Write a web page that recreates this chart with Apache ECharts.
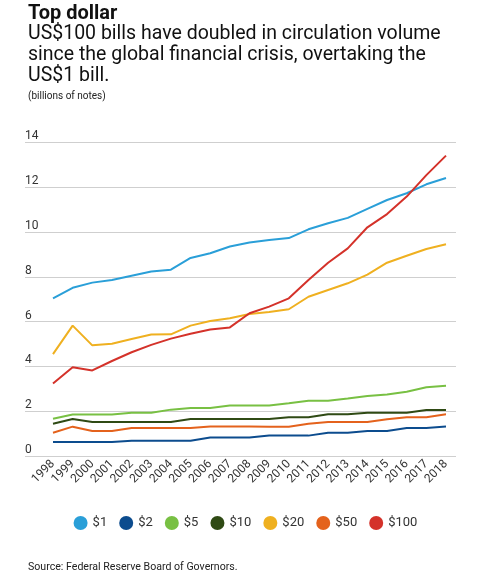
<!DOCTYPE html>
<html>
<head>
<meta charset="utf-8">
<script src="https://cdn.jsdelivr.net/npm/echarts@6/dist/echarts.min.js"></script>
<style>
    html, body { margin: 0; padding: 0; background: #fff; }
    #chart { width: 491px; height: 572px; }
</style>
</head>
<body>
<div id="chart"></div>
<script>
// years and notes in circulation (billions)
var years = ['1998', '1999', '2000', '2001', '2002', '2003', '2004', '2005', '2006', '2007', '2008',
    '2009', '2010', '2011', '2012', '2013', '2014', '2015', '2016', '2017', '2018'];
var yTicks = [0, 2, 4, 6, 8, 10, 12, 14];

var names = ['$1', '$2', '$5', '$10', '$20', '$50', '$100'];
var colors = ['#2a9fd8', '#0c4c8e', '#78c043', '#2f4a14', '#efb020', '#e4621c', '#d4322a'];

var d1 = [7.04, 7.51, 7.74, 7.86, 8.05, 8.24, 8.32, 8.84, 9.05, 9.35, 9.53, 9.64, 9.73, 10.12, 10.39, 10.63, 11.03, 11.43, 11.73, 12.13, 12.41];
var d2 = [0.63, 0.63, 0.63, 0.63, 0.68, 0.68, 0.68, 0.68, 0.83, 0.83, 0.83, 0.91, 0.91, 0.91, 1.04, 1.04, 1.12, 1.12, 1.25, 1.25, 1.32];
var d5 = [1.66, 1.85, 1.85, 1.85, 1.93, 1.93, 2.07, 2.14, 2.14, 2.25, 2.25, 2.25, 2.35, 2.47, 2.47, 2.57, 2.68, 2.75, 2.87, 3.07, 3.14];
var d10 = [1.44, 1.65, 1.52, 1.52, 1.52, 1.52, 1.52, 1.65, 1.65, 1.65, 1.65, 1.65, 1.73, 1.73, 1.86, 1.86, 1.93, 1.93, 1.93, 2.05, 2.05];
var d20 = [4.55, 5.82, 4.94, 5.01, 5.22, 5.42, 5.43, 5.82, 6.03, 6.15, 6.34, 6.43, 6.55, 7.11, 7.41, 7.71, 8.10, 8.63, 8.94, 9.24, 9.45];
var d50 = [1.04, 1.31, 1.12, 1.12, 1.25, 1.25, 1.25, 1.25, 1.32, 1.32, 1.32, 1.31, 1.31, 1.44, 1.52, 1.52, 1.52, 1.64, 1.73, 1.73, 1.86];
var d100 = [3.24, 3.96, 3.82, 4.24, 4.63, 4.96, 5.24, 5.46, 5.65, 5.74, 6.37, 6.67, 7.04, 7.86, 8.63, 9.27, 10.21, 10.80, 11.58, 12.54, 13.41];

window.addEventListener("load", initChart);

function initChart() {
    var chart = echarts.init(document.getElementById("chart"));
    var font = 'Roboto';
    var allData = [d1, d2, d5, d10, d20, d50, d100];

    var series = [];
    for (var i = 0; i < names.length; i++) {
        series.push({
            name: names[i],
            type: 'line',
            xAxisIndex: 0,
            yAxisIndex: 0,
            showSymbol: false,
            symbol: 'circle',
            lineStyle: { width: 2, color: colors[i] },
            itemStyle: { color: colors[i] },
            data: allData[i]
        });
    }

    var option = {
        animation: false,
        backgroundColor: '#fff',
        textStyle: { fontFamily: font },
        title: [{
            text: 'Top dollar',
            left: 23,
            top: -1,
            textStyle: { fontFamily: font, fontSize: 20, fontWeight: 'bold', color: '#111' }
        }, {
            text: 'US$100 bills have doubled in circulation volume\nsince the global financial crisis, overtaking the\nUS$1 bill.',
            left: 23,
            top: 19,
            textStyle: { fontFamily: font, fontSize: 19.5, fontWeight: 'normal', color: '#111', lineHeight: 21 }
        }, {
            text: '(billions of notes)',
            left: 23,
            top: 86,
            textStyle: { fontFamily: font, fontSize: 10, fontWeight: 'normal', color: '#222' }
        }, {
            text: 'Source: Federal Reserve Board of Governors.',
            left: 23,
            top: 557,
            textStyle: { fontFamily: font, fontSize: 10.6, fontWeight: 'normal', color: '#222' }
        }],
        legend: {
            data: names,
            top: 511,
            left: 'center',
            icon: 'circle',
            itemWidth: 14,
            itemHeight: 14,
            itemGap: 12,
            textStyle: { fontFamily: font, fontSize: 13, color: '#333' }
        },
        grid: [
            { left: 53, right: 45, top: 142.4, bottom: 116 },
            { left: 25, right: 35, top: 142.4, bottom: 116 }
        ],
        xAxis: [{
            type: 'category',
            gridIndex: 0,
            boundaryGap: false,
            data: years,
            axisLine: { show: false },
            axisTick: { show: false },
            axisLabel: {
                interval: 0,
                rotate: 45,
                margin: 6,
                fontFamily: font,
                fontSize: 12,
                color: '#333'
            }
        }, {
            type: 'value',
            gridIndex: 1,
            min: 0,
            max: 1,
            axisLine: { show: false },
            axisTick: { show: false },
            axisLabel: { show: false },
            splitLine: { show: false }
        }],
        yAxis: [{
            type: 'value',
            gridIndex: 0,
            min: yTicks[0],
            max: yTicks[yTicks.length - 1],
            interval: 2,
            axisLine: { show: false },
            axisTick: { show: false },
            axisLabel: { show: false },
            splitLine: { show: false }
        }, {
            type: 'value',
            gridIndex: 1,
            min: yTicks[0],
            max: yTicks[yTicks.length - 1],
            interval: 2,
            axisLine: { show: false },
            axisTick: { show: false },
            axisLabel: {
                inside: true,
                margin: 0,
                align: 'left',
                verticalAlign: 'bottom',
                lineHeight: 12,
                padding: 0,
                fontFamily: font,
                fontSize: 12,
                color: '#333'
            },
            splitLine: { lineStyle: { color: '#cfcfcf', width: 1 } }
        }],
        series: series
    };

    chart.setOption(option);
}
</script>
</body>
</html>
